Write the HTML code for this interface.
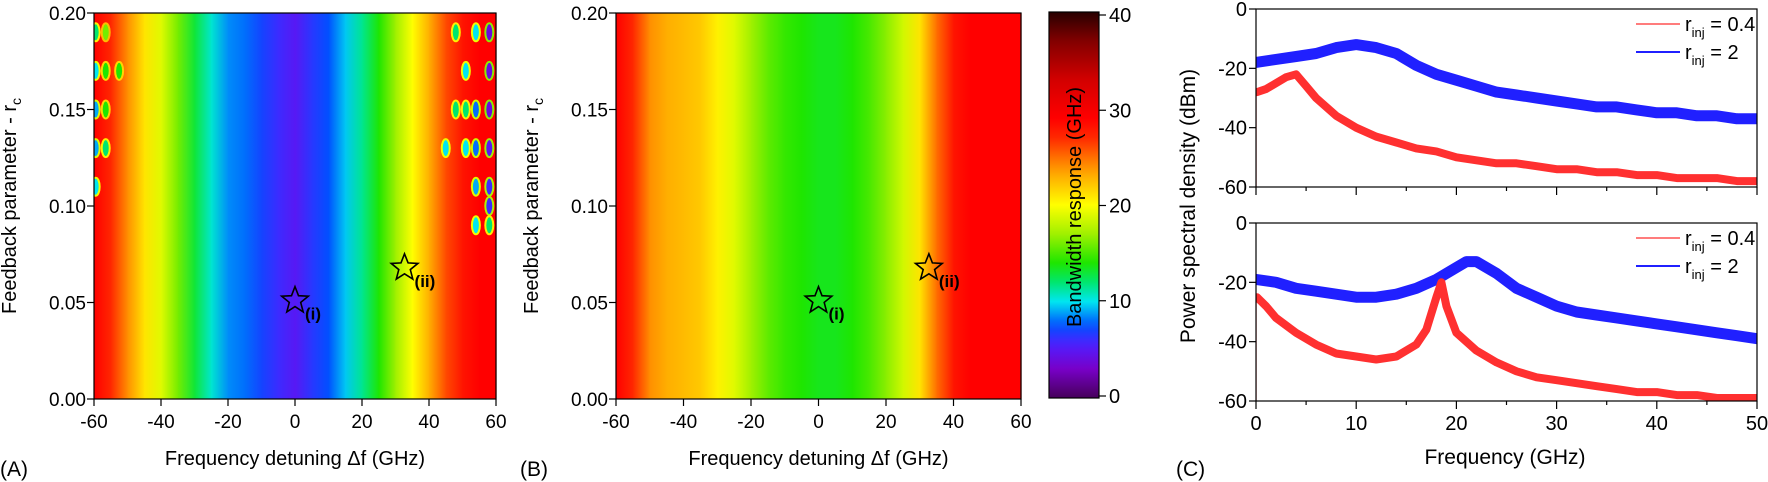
<!DOCTYPE html>
<html><head><meta charset="utf-8"><style>
body{margin:0;background:#fff;}
svg{display:block;font-family:"Liberation Sans",Arial,sans-serif;}
</style></head><body>
<svg id="fig" width="1768" height="482" viewBox="0 0 1768 482" xmlns="http://www.w3.org/2000/svg">
<defs id="defs"></defs>
<g id="root"></g>
</svg>
<script>
// ---- data ----
const detuning = [-60,-55,-50,-45,-40,-35,-30,-25,-20,-15,-10,-5,0,5,10,15,20,25,30,35,40,45,50,55,60];
const bwA = [29,27,24,21,19,16,13,10.5,8.5,8,7,6,5,6.5,7.5,9.5,11.5,14,17,20,23,26,28,29,29];
const bwB = [29,27,24,23,22.5,22,20.5,19,17,15.5,14.5,14,13.5,13.5,14,15,16.5,18.5,21,25,28,29,29,29,29];
const spotX = [-59.5,-59.5,-59.5,-59.5,-59.5,-56.5,-56.5,-56.5,-56.5,-52.5,58,58,58,58,58,58,54,54,54,54,51,51,51,48,48,45,54,58];
const spotRc = [0.11,0.13,0.15,0.17,0.19,0.13,0.15,0.17,0.19,0.17,0.19,0.17,0.15,0.13,0.11,0.10,0.19,0.15,0.13,0.11,0.13,0.15,0.17,0.19,0.15,0.13,0.09,0.09];
const spotVal = [10,9,9,10,12,12,14,14,16,14,4,4,4,5,6,6,10,8,8,9,10,12,10,12,12,10,10,12];
const starX = [0,32.7];
const starRc = [0.051,0.068];
const starLabels = ['(i)','(ii)'];
const xTicksA = [-60,-40,-20,0,20,40,60];
const yTicksA = [0,0.05,0.10,0.15,0.20];
const cbTicks = [0,10,20,30,40];
const fTicks = [0,10,20,30,40,50];
const pTicks = [0,-20,-40,-60];
const topBlueF = [0,2,4,6,8,10,12,14,16,18,20,22,24,26,28,30,32,34,36,38,40,42,44,46,48,50];
const topBlueP = [-18,-17,-16,-15,-13,-12,-13,-15,-19,-22,-24,-26,-28,-29,-30,-31,-32,-33,-33,-34,-35,-35,-36,-36,-37,-37];
const topRedF = [0.1,1,2,3,4,5,6,8,10,12,14,16,18,20,22,24,26,28,30,32,34,36,38,40,42,44,46,48,50];
const topRedP = [-28,-27,-25,-23,-22,-26,-30,-36,-40,-43,-45,-47,-48,-50,-51,-52,-52,-53,-54,-54,-55,-55,-56,-56,-57,-57,-57,-58,-58];
const botBlueF = [0,2,4,6,8,10,12,14,16,18,20,21,22,24,26,28,30,32,34,36,38,40,42,44,46,48,50];
const botBlueP = [-19,-20,-22,-23,-24,-25,-25,-24,-22,-19,-15,-13,-13,-17,-22,-25,-28,-30,-31,-32,-33,-34,-35,-36,-37,-38,-39];
const botRedF = [0.1,1,2,4,6,8,10,12,14,16,17,18,18.5,19,20,22,24,26,28,30,32,34,36,38,40,42,44,46,48,50];
const botRedP = [-25,-28,-32,-37,-41,-44,-45,-46,-45,-41,-36,-25,-20,-28,-37,-43,-47,-50,-52,-53,-54,-55,-56,-57,-57,-58,-58,-59,-59,-59];

// ---- helpers ----
const NS='http://www.w3.org/2000/svg';
const root=document.getElementById('root');
const defs=document.getElementById('defs');
function mk(tag,attrs,parent){const e=document.createElementNS(NS,tag);for(const k in attrs)e.setAttribute(k,attrs[k]);(parent||root).appendChild(e);return e;}
const stops=[[0,[70,0,90]],[3,[120,0,200]],[5.5,[80,30,255]],[7.5,[0,80,255]],[10,[0,230,240]],[12,[0,230,110]],[14,[30,230,0]],[17,[160,240,0]],[20,[255,255,0]],[23.5,[255,160,0]],[27,[255,40,0]],[29,[255,0,0]],[33,[210,0,0]],[37,[130,0,0]],[40,[40,0,0]]];
function cmap(v){v=Math.max(0,Math.min(40,v));for(let i=0;i<stops.length-1;i++){const a=stops[i],b=stops[i+1];if(v<=b[0]){const t=(v-a[0])/(b[0]-a[0]);const c=a[1].map((x,j)=>Math.round(x+(b[1][j]-x)*t));return `rgb(${c[0]},${c[1]},${c[2]})`;}}return 'rgb(40,0,0)';}
function txt(s,x,y,attrs,parent){const e=mk('text',Object.assign({x:x,y:y,'font-size':19,fill:'#000'},attrs),parent);e.textContent=s;return e;}

// ---- heatmap panel ----
function heatPanel(id,x0,x1,vals,withSpots,label,labelX){
  const y0=13,y1=399;
  const sx=v=>x0+(v+60)/120*(x1-x0);
  const sy=v=>y1-v/0.2*(y1-y0);
  const g=mk('g',{});
  
  
  for(let i=0;i<detuning.length-1;i++){
    const gid='gr'+id+i;
    const lg=mk('linearGradient',{id:gid,x1:0,x2:1,y1:0,y2:0},defs);
    mk('stop',{offset:0,'stop-color':cmap(vals[i])},lg);
    mk('stop',{offset:1,'stop-color':cmap(vals[i+1])},lg);
    const r=mk('rect',{x:sx(detuning[i]),y:y0,width:sx(detuning[i+1])-sx(detuning[i])+0.6,height:y1-y0,fill:`url(#${gid})`},g);
    
    
  }
  if(withSpots){
    const cp=mk('clipPath',{id:'clip'+id},defs);mk('rect',{x:x0,y:y0,width:x1-x0,height:y1-y0},cp);
    const sg=mk('g',{'clip-path':`url(#clip${id})`},g);
    for(let i=0;i<spotX.length;i++){
      const e=mk('ellipse',{cx:sx(spotX[i]),cy:sy(spotRc[i]),rx:4,ry:9,fill:cmap(spotVal[i]),stroke:cmap((spotVal[i]+29)/2),'stroke-width':2},sg);
      
      
    }
  }
  mk('rect',{x:x0,y:y0,width:x1-x0,height:y1-y0,fill:'none',stroke:'#000','stroke-width':1.2},g);
  xTicksA.forEach(t=>{mk('line',{x1:sx(t),x2:sx(t),y1:y1,y2:y1+7,stroke:'#000','stroke-width':1.2});
    const e=txt(t,sx(t),428,{'text-anchor':'middle'});});
  yTicksA.forEach(t=>{mk('line',{x1:x0-7,x2:x0,y1:sy(t),y2:sy(t),stroke:'#000','stroke-width':1.2});
    const e=txt(t.toFixed(2),x0-8,sy(t)+7,{'text-anchor':'end'});});
  for(let i=0;i<starX.length;i++){
    const cx=sx(starX[i]),cy=sy(starRc[i]);let p='';
    for(let k=0;k<10;k++){const r=k%2?6:14;const a=-Math.PI/2+k*Math.PI/5;p+=(k?'L':'M')+(cx+r*Math.cos(a)).toFixed(1)+','+(cy+r*Math.sin(a)).toFixed(1);}
    const s=mk('path',{d:p+'Z',fill:'none',stroke:'#000','stroke-width':1.6});
    
    const l=txt(starLabels[i],cx+10,cy+19,{'font-weight':'bold','font-size':17});
    
  }
  const xl=txt('Frequency detuning \u0394f (GHz)',(x0+x1)/2,465,{'text-anchor':'middle','font-size':20});
  
  const yl=mk('text',{x:0,y:0,'font-size':20,'text-anchor':'middle',transform:`translate(${x0-78},206) rotate(-90)`});
  yl.innerHTML='Feedback parameter - r<tspan font-size="14" dy="5">c</tspan>';
  
  const pl=txt(label,labelX,476,{'font-size':21});
  
}
heatPanel('a',94,496,bwA,true,'(A)',0);
heatPanel('b',616,1021,bwB,false,'(B)',520);

// ---- colorbar ----
(function(){
  const x0=1049,x1=1099,y0=12,y1=398;const cy=v=>396-v/40*(396-15);
  const lg=mk('linearGradient',{id:'cbg',x1:0,x2:0,y1:1,y2:0},defs);
  for(let v=0;v<=40;v+=1){mk('stop',{offset:v/40,'stop-color':cmap(v)},lg);}
  const r=mk('rect',{x:x0,y:y0,width:x1-x0,height:y1-y0,fill:'url(#cbg)',stroke:'#000','stroke-width':1.2});
  
  cbTicks.forEach(t=>{mk('line',{x1:x1,x2:x1+7,y1:cy(t),y2:cy(t),stroke:'#000','stroke-width':1.2});
    const e=txt(t,x1+10,cy(t)+7,{'font-size':20});});
  const t=txt('Bandwidth response (GHz)',0,0,{'font-size':20,'text-anchor':'middle',transform:'translate(1081,207) rotate(-90)'});
  
})();

// ---- PSD panels ----
function psd(id,y0,bf,bp,rf,rp,legY){
  const x0=1256,x1=1757,y1=y0+178;
  const sx=v=>x0+v/50*(x1-x0), sy=v=>y0-v/60*(y1-y0);
  const g=mk('g',{});
  const cp=mk('clipPath',{id:'cp'+id},defs);mk('rect',{x:x0,y:y0,width:x1-x0,height:y1-y0},cp);
  const cg=mk('g',{'clip-path':`url(#cp${id})`},g);
  function line(f,p,col,w,name){const d=f.map((v,i)=>(i?'L':'M')+sx(v).toFixed(1)+','+sy(p[i]).toFixed(1)).join('');
    const e=mk('path',{d:d,fill:'none',stroke:col,'stroke-width':w,'stroke-linejoin':'round','stroke-linecap':'round'},cg);
    }
  line(bf,bp,'#2020ff',11,'series-rinj-2');
  line(rf,rp,'#ff3030',8,'series-rinj-0.4');
  mk('line',{x1:x0,x2:x0,y1:y1,y2:sy(rp[0]),stroke:'#ff0000','stroke-width':1.2},cg);
  mk('rect',{x:x0,y:y0,width:x1-x0,height:y1-y0,fill:'none',stroke:'#000','stroke-width':1.2},g);
  for(let f=0;f<=50;f+=5){mk('line',{x1:sx(f),x2:sx(f),y1:y1,y2:y1+(f%10?4:8),stroke:'#000','stroke-width':1.2},g);}
  pTicks.forEach(t=>{mk('line',{x1:x0-7,x2:x0,y1:sy(t),y2:sy(t),stroke:'#000','stroke-width':1.2},g);
    const e=txt(t,x0-9,sy(t)+7,{'text-anchor':'end','font-size':20},g);});
  [['#ff5050','0.4',legY],['#2020ff','2',legY+28]].forEach(L=>{
    mk('line',{x1:1636,x2:1680,y1:L[2],y2:L[2],stroke:L[0],'stroke-width':L[0]=='#2020ff'?2:1.5},g);
    const t=mk('text',{x:1685,y:L[2]+7,'font-size':20},g);
    t.innerHTML='r<tspan font-size="13" dy="6">inj</tspan><tspan dy="-6"> = '+L[1]+'</tspan>';
    
  });
  return sx;
}
psd('top',9,topBlueF,topBlueP,topRedF,topRedP,24);
const sxC=psd('bottom',223,botBlueF,botBlueP,botRedF,botRedP,238);
fTicks.forEach(t=>{const e=txt(t,sxC(t),430,{'text-anchor':'middle','font-size':20});});
(function(){
  const xl=txt('Frequency (GHz)',1505,464,{'text-anchor':'middle','font-size':21});
  
  const yl=txt('Power spectral density (dBm)',0,0,{'text-anchor':'middle','font-size':21,'transform':'translate(1195,206) rotate(-90)'});
  
  const pl=txt('(C)',1176,476,{'font-size':21});
  
})();
</script>
</body></html>
